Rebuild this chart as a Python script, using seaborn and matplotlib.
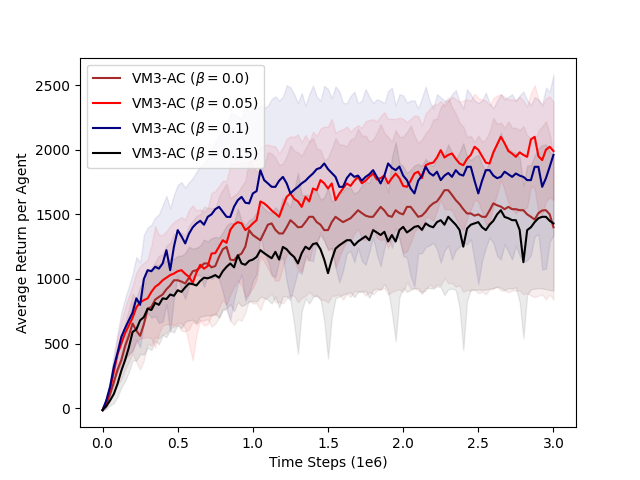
import numpy as np
import pandas as pd
import matplotlib
matplotlib.use('Agg')
import matplotlib.pyplot as plt
import seaborn as sns

# time axis in units of 1e6 steps (one point every 25k steps)
steps = np.round(np.linspace(0, 3.0, 121), 3)

labels = [r'VM3-AC ($\beta=0.0$)', r'VM3-AC ($\beta=0.05$)',
          r'VM3-AC ($\beta=0.1$)', r'VM3-AC ($\beta=0.15$)']
colors = ['brown', 'red', 'navy', 'black']

# mean returns
mean_b00 = [-15, 30, 110, 200, 300, 372, 480, 560, 655, 600,
            560, 650, 770, 784, 840, 861, 880, 920, 950, 990,
            990, 980, 965, 1010, 1060, 1068, 1090, 1120, 1120, 1090,
            1100, 1171, 1230, 1248, 1150, 1145, 1180, 1197, 1250, 1378,
            1340, 1320, 1300, 1360, 1420, 1430, 1380, 1352, 1352, 1400,
            1455, 1430, 1400, 1403, 1440, 1481, 1481, 1440, 1420, 1378,
            1378, 1440, 1481, 1460, 1440, 1455, 1470, 1500, 1532, 1510,
            1490, 1481, 1481, 1520, 1558, 1530, 1490, 1481, 1532, 1510,
            1500, 1558, 1558, 1520, 1481, 1490, 1520, 1560, 1585, 1600,
            1640, 1687, 1687, 1650, 1610, 1580, 1540, 1507, 1507, 1490,
            1500, 1481, 1481, 1530, 1585, 1570, 1560, 1540, 1558, 1540,
            1540, 1532, 1532, 1500, 1481, 1460, 1510, 1530, 1532, 1500,
            1400]
mean_b05 = [-15, 50, 150, 280, 420, 500, 580, 640, 700, 780,
            820, 836, 850, 900, 939, 960, 990, 1010, 1030, 1042,
            1060, 1068, 1040, 1016, 970, 1050, 1110, 1080, 1100, 1197,
            1200, 1250, 1300, 1280, 1380, 1420, 1440, 1430, 1378, 1400,
            1430, 1455, 1600, 1585, 1560, 1530, 1507, 1481, 1560, 1635,
            1662, 1620, 1600, 1558, 1635, 1600, 1700, 1687, 1765, 1740,
            1700, 1739, 1610, 1660, 1700, 1739, 1720, 1760, 1790, 1740,
            1760, 1790, 1816, 1770, 1780, 1800, 1739, 1780, 1816, 1780,
            1720, 1713, 1760, 1816, 1830, 1780, 1880, 1894, 1900, 1940,
            1997, 1940, 1960, 1971, 1930, 1894, 1880, 1930, 1960, 2023,
            2000, 1950, 1900, 1894, 1980, 2040, 2100, 2050, 1990, 1970,
            1945, 1980, 1960, 1945, 2080, 2100, 1950, 1920, 2000, 2023,
            1990]
mean_b10 = [-15, 60, 165, 320, 430, 552, 620, 681, 740, 850,
            800, 1000, 1068, 1060, 1094, 1080, 1120, 1223, 1068, 1250,
            1378, 1330, 1275, 1350, 1400, 1430, 1450, 1420, 1481, 1500,
            1540, 1558, 1520, 1481, 1480, 1560, 1610, 1635, 1590, 1585,
            1662, 1680, 1842, 1765, 1740, 1713, 1713, 1760, 1790, 1740,
            1662, 1690, 1713, 1740, 1760, 1790, 1816, 1850, 1860, 1894,
            1850, 1820, 1790, 1713, 1713, 1780, 1816, 1790, 1800, 1760,
            1790, 1810, 1842, 1790, 1739, 1800, 1894, 1860, 1842, 1870,
            1800, 1765, 1700, 1662, 1760, 1800, 1868, 1820, 1800, 1830,
            1765, 1800, 1820, 1790, 1842, 1810, 1800, 1868, 1868, 1760,
            1662, 1760, 1842, 1842, 1800, 1780, 1790, 1830, 1810, 1790,
            1816, 1800, 1790, 1765, 1765, 1868, 1868, 1713, 1780, 1868,
            1960]
mean_b15 = [-15, 15, 60, 110, 190, 290, 372, 470, 590, 610,
            680, 705, 770, 760, 815, 800, 850, 845, 880, 870,
            913, 900, 935, 965, 960, 950, 985, 1010, 1005, 1016,
            1030, 1010, 1060, 1094, 1120, 1090, 1184, 1120, 1110, 1140,
            1150, 1171, 1223, 1200, 1180, 1160, 1210, 1150, 1248, 1230,
            1195, 1170, 1120, 1200, 1250, 1230, 1270, 1277, 1230, 1150,
            1045, 1150, 1235, 1260, 1280, 1300, 1300, 1260, 1290, 1310,
            1330, 1300, 1378, 1360, 1340, 1365, 1290, 1340, 1290, 1378,
            1403, 1360, 1380, 1403, 1410, 1380, 1430, 1410, 1400, 1440,
            1455, 1420, 1481, 1450, 1420, 1380, 1250, 1390, 1420, 1430,
            1440, 1400, 1378, 1420, 1450, 1500, 1532, 1480, 1470, 1455,
            1455, 1380, 1130, 1378, 1400, 1440, 1470, 1481, 1481, 1450,
            1430]

# spread around each mean (shaded band)
std_b00 = [2, 25, 50, 85, 120, 150, 180, 205, 230, 245,
           260, 280, 270, 300, 290, 320, 310, 340, 330, 360,
           350, 380, 370, 400, 390, 420, 410, 440, 430, 460,
           445, 470, 460, 490, 475, 500, 490, 520, 510, 540,
           530, 510, 540, 520, 560, 540, 560, 530, 540, 550,
           580, 560, 580, 550, 570, 580, 610, 570, 580, 540,
           560, 570, 610, 580, 600, 570, 610, 590, 630, 600,
           620, 580, 600, 610, 640, 600, 610, 580, 620, 590,
           600, 580, 630, 590, 570, 590, 610, 600, 650, 640,
           690, 680, 720, 680, 670, 630, 640, 590, 600, 570,
           610, 580, 600, 610, 660, 630, 650, 630, 660, 630,
           630, 620, 650, 610, 610, 600, 640, 650, 690, 620,
           560]
std_b05 = [2, 20, 50, 90, 130, 170, 200, 230, 250, 270,
           280, 290, 300, 360, 470, 380, 350, 360, 380, 400,
           400, 410, 420, 520, 600, 480, 430, 440, 450, 470,
           480, 470, 460, 480, 500, 480, 450, 480, 520, 510,
           500, 460, 420, 450, 480, 500, 520, 490, 460, 450,
           440, 480, 520, 500, 480, 460, 440, 420, 400, 440,
           480, 500, 520, 490, 460, 440, 420, 410, 400, 430,
           460, 440, 420, 450, 480, 490, 500, 460, 420, 470,
           520, 500, 480, 450, 430, 410, 400, 420, 450, 410,
           380, 400, 420, 440, 460, 480, 500, 460, 420, 410,
           400, 440, 480, 450, 420, 380, 330, 360, 400, 420,
           440, 430, 420, 390, 360, 400, 440, 420, 400, 390,
           380]
std_b10 = [2, 30, 60, 100, 150, 190, 230, 260, 300, 320,
           330, 340, 330, 360, 380, 420, 450, 420, 480, 400,
           350, 420, 430, 400, 380, 400, 420, 480, 450, 500,
           520, 560, 620, 700, 800, 720, 650, 600, 760, 700,
           680, 640, 500, 560, 600, 680, 700, 620, 620, 760,
           820, 740, 650, 700, 580, 640, 680, 560, 520, 600,
           620, 580, 700, 740, 650, 580, 600, 660, 560, 620,
           680, 600, 520, 600, 640, 560, 560, 620, 500, 560,
           620, 600, 680, 720, 560, 600, 620, 560, 520, 600,
           640, 580, 560, 640, 620, 560, 520, 600, 560, 620,
           700, 620, 600, 520, 520, 600, 640, 560, 600, 640,
           560, 620, 660, 620, 580, 540, 520, 640, 700, 580,
           623]
std_b15 = [2, 20, 40, 70, 100, 130, 160, 190, 220, 240,
           260, 290, 300, 310, 295, 305, 285, 295, 275, 285,
           265, 280, 265, 285, 275, 290, 275, 295, 285, 300,
           295, 310, 300, 320, 315, 340, 360, 330, 305, 315,
           320, 345, 360, 345, 340, 350, 345, 370, 380, 365,
           360, 520, 700, 450, 400, 420, 410, 405, 385, 480,
           660, 450, 385, 395, 400, 410, 405, 400, 390, 410,
           420, 445, 460, 435, 420, 405, 380, 600, 770, 520,
           470, 460, 465, 475, 480, 495, 500, 480, 475, 495,
           520, 545, 560, 525, 505, 600, 800, 560, 500, 515,
           520, 485, 460, 495, 520, 560, 600, 565, 540, 530,
           520, 560, 590, 500, 480, 515, 540, 555, 560, 535,
           520]

means = [mean_b00, mean_b05, mean_b10, mean_b15]
stds = [std_b00, std_b05, std_b10, std_b15]

frames = []
for lab, m, s in zip(labels, means, stds):
    frames.append(pd.DataFrame({'step': steps, 'ret': m, 'std': s, 'run': lab}))
df = pd.concat(frames, ignore_index=True)

fig, ax = plt.subplots(figsize=(6.4, 4.8), dpi=100)

for lab, col in zip(labels, colors):
    sub = df[df['run'] == lab]
    ax.fill_between(sub['step'], sub['ret'] - sub['std'], sub['ret'] + sub['std'],
                    color=col, alpha=0.08, zorder=1)

sns.lineplot(data=df, x='step', y='ret', hue='run', hue_order=labels,
             palette=dict(zip(labels, colors)), linewidth=1.5, ax=ax, zorder=2)

ax.set_xlabel('Time Steps (1e6)')
ax.set_ylabel('Average Return per Agent')
ax.set_xticks([0.0, 0.5, 1.0, 1.5, 2.0, 2.5, 3.0])
handles, lbls = ax.get_legend_handles_labels()
ax.legend(handles, lbls, loc='upper left')

plt.savefig('out.png')
plt.close()
